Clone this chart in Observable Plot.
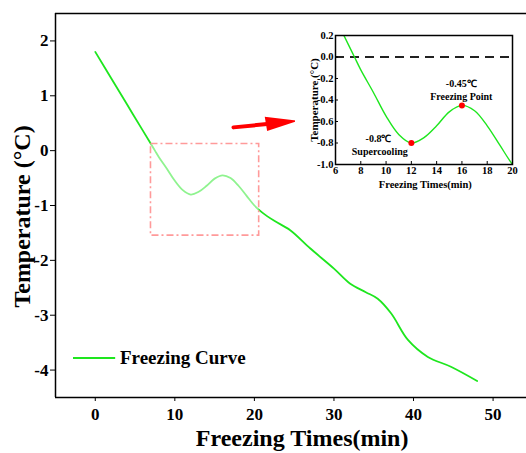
<!DOCTYPE html>
<html>
<head>
<meta charset="utf-8">
<script src="https://cdn.jsdelivr.net/npm/d3@7"></script>
<script src="https://cdn.jsdelivr.net/npm/@observablehq/plot@0.6"></script>
<style>
  html, body { margin: 0; padding: 0; background: #fff; }
  #wrap { position: relative; width: 526px; height: 453px; overflow: hidden; }
  #inset { position: absolute; left: 295px; top: 25px; }
  svg, svg text { font-family: "Liberation Serif", "Times New Roman", serif !important; font-weight: bold !important; }
</style>
</head>
<body>
<div id="wrap"><div id="main"></div><div id="inset"></div></div>
<script>
// ---- data ----
const time = [0, 2, 4, 6, 7, 7.5, 8, 9, 10, 11, 12, 13, 14, 15, 16, 17, 18, 19, 20, 21, 22.5, 24.5, 27, 30, 32, 34, 35.5, 37.2, 39.3, 41.8, 44.7, 48];
const temp = [1.8, 1.32, 0.84, 0.36, 0.12, 0.0, -0.12, -0.33, -0.55, -0.72, -0.8, -0.75, -0.64, -0.51, -0.45, -0.5, -0.64, -0.82, -1.0, -1.13, -1.28, -1.45, -1.78, -2.15, -2.42, -2.58, -2.70, -2.97, -3.45, -3.76, -3.94, -4.2];
const xTicks = [0, 10, 20, 30, 40, 50];
const yTicks = [-4, -3, -2, -1, 0, 1, 2];
const xDomain = [-5, 54.2];
const yDomain = [-4.5, 2.5];
const seriesName = "Freezing Curve";
// zoom box (data coords)
const boxX = [7, 20.6];
const boxY = [0.12, -1.55];
// inset
const insetXDomain = [6, 20];
const insetYDomain = [-1.0, 0.2];
const insetXTicks = [6, 8, 10, 12, 14, 16, 18, 20];
const insetYTicks = [-1.0, -0.8, -0.6, -0.4, -0.2, 0.0, 0.2];
const keyPoints = [{x: 12, y: -0.8}, {x: 16, y: -0.45}];
const keyLabels = [
  {x: 15.95, y: -0.25, text: "-0.45℃"},
  {x: 15.95, y: -0.37, text: "Freezing Point"},
  {x: 9.4, y: -0.76, text: "-0.8℃"},
  {x: 9.5, y: -0.88, text: "Supercooling"}
];
// arrow annotation (data coords of main chart)
const arrowShaft = [{x: 17.37, y: 0.424}, {x: 21.6, y: 0.485}];
const arrowHead = [{x: 21.3, y: 0.62}, {x: 25.5, y: 0.545}, {x: 21.6, y: 0.36}];

const data = time.map((t, i) => ({t, v: temp[i]}));
const green = "#1ee61e";
const serif = "Liberation Serif, Times New Roman, serif";

const main = Plot.plot({
  width: 526, height: 453,
  marginLeft: 55, marginRight: 0, marginTop: 13, marginBottom: 56,
  style: {fontFamily: serif, fontWeight: "bold", fontSize: "17px", background: "white"},
  x: {domain: xDomain},
  y: {domain: yDomain},
  marks: [
    Plot.line(data, {x: "t", y: "v", stroke: green, strokeWidth: 1.8, curve: "catmull-rom"}),
    Plot.rect([0], {x1: boxX[0], x2: boxX[1], y1: boxY[0], y2: boxY[1], fill: "white", fillOpacity: 0.5,
      stroke: "#ff9a9a", strokeWidth: 1.6, strokeDasharray: "7,3,2,3"}),
    Plot.line(arrowShaft, {x: "x", y: "y", stroke: "red", strokeWidth: 4}),
    Plot.line(arrowHead, {x: "x", y: "y", fill: "red", stroke: "none"}),
    Plot.ruleX([xDomain[0]], {stroke: "black", strokeWidth: 1.5}),
    Plot.ruleY(yDomain, {stroke: "black", strokeWidth: 1.5}),
    Plot.axisX(xTicks, {tickSize: 4, tickPadding: 6, label: null, fontSize: 17, fontFamily: serif}),
    Plot.axisY(yTicks, {tickSize: 5, tickPadding: 2, label: null, fontSize: 17, fontFamily: serif, tickFormat: d => String(d)}),
    Plot.text([seriesName], {x: 3.1, y: -3.78, text: d => d, textAnchor: "start", fontSize: 19, fontFamily: serif}),
    Plot.link([0], {x1: -2.8, x2: 2.5, y1: -3.78, y2: -3.78, stroke: green, strokeWidth: 2}),
    Plot.text(["Temperature (°C)"], {x: xDomain[0], y: -1.2, text: d => d, rotate: -90, dx: -33, fontSize: 24, fontFamily: serif}),
    Plot.text(["Freezing Times(min)"], {x: 26, y: yDomain[0], text: d => d, dy: 41, fontSize: 24, fontFamily: serif})
  ]
});
document.getElementById("main").appendChild(main);

const insetData = data.filter(d => d.t >= 5.5 && d.t <= 21.5);
const inset = Plot.plot({
  width: 225, height: 170,
  marginLeft: 40, marginRight: 8, marginTop: 10, marginBottom: 31,
  style: {fontFamily: serif, fontWeight: "bold", fontSize: "10px", background: "white"},
  x: {domain: insetXDomain},
  y: {domain: insetYDomain},
  marks: [
    Plot.ruleY([0], {stroke: "#222", strokeWidth: 1.8, strokeDasharray: "9,6"}),
    Plot.line(insetData, {x: "t", y: "v", stroke: green, strokeWidth: 1.4, curve: "catmull-rom", clip: true}),
    Plot.dot(keyPoints, {x: "x", y: "y", r: 3, fill: "red", stroke: "none"}),
    Plot.text(keyLabels, {x: "x", y: "y", text: "text", fontSize: 10, fontFamily: serif}),
    Plot.frame({stroke: "black", strokeWidth: 1.5}),
    Plot.axisX(insetXTicks, {tickSize: -3, tickPadding: 5, label: null, fontSize: 10.5, fontFamily: serif}),
    Plot.axisY(insetYTicks, {tickSize: -3, tickPadding: 5, label: null, fontSize: 10.5, fontFamily: serif, tickFormat: d => d.toFixed(1)}),
    Plot.text(["Temperature (°C)"], {x: insetXDomain[0], y: -0.4, text: d => d, rotate: -90, dx: -21, fontSize: 11, fontFamily: serif}),
    Plot.text(["Freezing Times(min)"], {x: 13.1, y: insetYDomain[0], text: d => d, dy: 20, fontSize: 10.5, fontFamily: serif})
  ]
});
document.getElementById("inset").appendChild(inset);
</script>
</body>
</html>
